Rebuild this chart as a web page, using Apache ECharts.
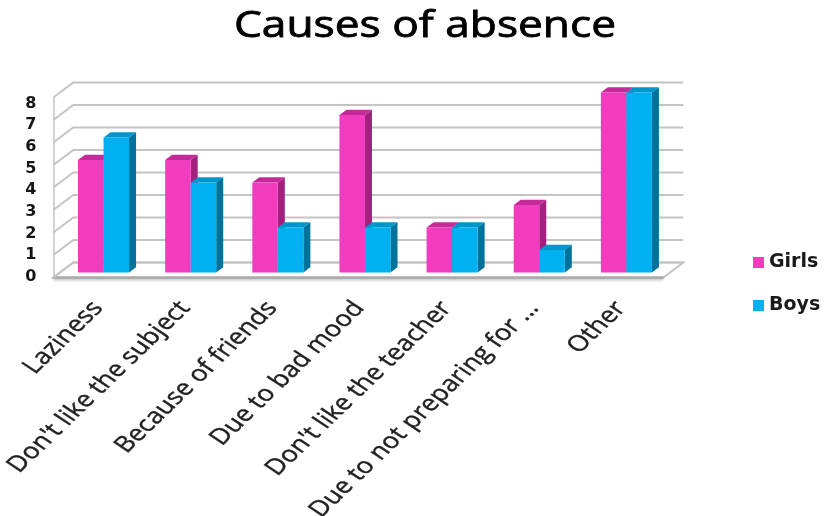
<!DOCTYPE html>
<html>
<head>
<meta charset="utf-8">
<script src="https://cdn.jsdelivr.net/npm/echarts@6/dist/echarts.min.js"></script>
<style>
  html, body { margin: 0; padding: 0; background: #ffffff; }
  #chart { width: 824px; height: 516px; }
</style>
</head>
<body>
<div id="chart"></div>
<script>
// ---- data ----
const categories = [
  "Laziness",
  "Don't like the subject",
  "Because of friends",
  "Due to bad mood",
  "Don't like the teacher",
  "Due to not preparing for …",
  "Other"
];
const girls = [5, 5, 4, 7, 2, 3, 8];
const boys = [6, 4, 2, 2, 2, 1, 8];
const valueTicks = [0, 1, 2, 3, 4, 5, 6, 7, 8];
const seriesNames = ['Girls', 'Boys'];
const titleText = 'Causes of absence';

// ---- 3D box geometry (pixels) ----
const DEPTH = [20, -15];      // offset of the back wall from the front edge
const BAR_T = 1 / 3;          // bars start this far into the box
const BAR_D = 0.35;           // bar depth as a share of the box depth
const BAR_W = 0.293;          // bar width as a share of a category band
const STRETCH = 1.25;         // horizontal widening of the text
const LABEL_ANGLE = 50.2 * Math.PI / 180;

const palette = {
  Girls: { front: '#f23cc0', side: '#a3207f', top: '#c42a9a' },
  Boys:  { front: '#00b0f0', side: '#00729c', top: '#0096cb' }
};

function barRenderer(idx) {
  const c = palette[seriesNames[idx]];
  return function (params, api) {
    const cat = api.value(0), v = api.value(1);
    const p0 = api.coord([cat, 0]);
    const p1 = api.coord([cat, v]);
    const band = api.size([1, 0])[0];
    const w = band * BAR_W;
    const ox = DEPTH[0] * BAR_T, oy = DEPTH[1] * BAR_T;
    const dx = DEPTH[0] * BAR_D, dy = DEPTH[1] * BAR_D;
    const x0 = p0[0] + ox - (idx === 0 ? w : 0);
    const x1 = x0 + w;
    const yb = p0[1] + oy, yt = p1[1] + oy;
    return {
      type: 'group',
      children: [
        { type: 'polygon', shape: { points: [[x1, yt], [x1 + dx, yt + dy], [x1 + dx, yb + dy], [x1, yb]] }, style: { fill: c.side } },
        { type: 'polygon', shape: { points: [[x0, yt], [x0 + dx, yt + dy], [x1 + dx, yt + dy], [x1, yt]] }, style: { fill: c.top } },
        { type: 'rect', shape: { x: x0, y: yt, width: w, height: yb - yt }, style: { fill: c.front } }
      ]
    };
  };
}

// gridline on the left side wall and the back wall
function wallLine(params, api) {
  const cs = params.coordSys;
  const y = api.coord([0, api.value(1)])[1];
  const xl = cs.x, xr = cs.x + cs.width;
  return {
    type: 'polyline',
    shape: { points: [[xl, y], [xl + DEPTH[0], y + DEPTH[1]], [xr + DEPTH[0], y + DEPTH[1]]] },
    style: { stroke: '#c4c4c4', lineWidth: 2, fill: null }
  };
}

// the floor of the box
function floorShape(params, api) {
  const cs = params.coordSys;
  const y = api.coord([0, 0])[1];
  const xl = cs.x, xr = cs.x + cs.width;
  return {
    type: 'group',
    children: [
      {
        type: 'polygon',
        shape: { points: [[xl, y], [xr, y], [xr + DEPTH[0], y + DEPTH[1]], [xl + DEPTH[0], y + DEPTH[1]]] },
        style: { fill: '#ffffff', stroke: '#c4c4c4', lineWidth: 2 }
      },
      {
        type: 'line',
        shape: { x1: xl, y1: y, x2: xr, y2: y },
        style: { stroke: '#a8a8a8', lineWidth: 2, shadowColor: 'rgba(0,0,0,0.35)', shadowBlur: 3, shadowOffsetY: 1.5 }
      }
    ]
  };
}

// slanted category labels under the floor
function categoryLabel(params, api) {
  const i = api.value(0);
  const p = api.coord([i, 0]);
  return {
    type: 'group',
    x: p[0] + 1,
    y: p[1] + 27,
    scaleX: STRETCH,
    children: [{
      type: 'text',
      rotation: LABEL_ANGLE,
      style: {
        text: categories[i],
        align: 'right',
        verticalAlign: 'middle',
        fontFamily: 'Open Sans',
        fontSize: 22,
        fill: '#1f1f1f',
        stroke: '#1f1f1f',
        lineWidth: 0.4
      }
    }]
  };
}

const chart = echarts.init(document.getElementById('chart'), null, { renderer: 'canvas' });

chart.setOption({
  backgroundColor: '#ffffff',
  animation: false,
  graphic: [{
    type: 'text',
    x: 425,
    y: 27,
    scaleX: 1.23,
    style: {
      text: titleText,
      fontFamily: 'Open Sans',
      fontWeight: 'normal',
      fontSize: 36,
      fill: '#000000',
      stroke: '#000000',
      lineWidth: 0.8,
      align: 'center',
      verticalAlign: 'middle'
    }
  }],
  legend: {
    data: seriesNames,
    orient: 'vertical',
    left: 748,
    top: 248,
    itemWidth: 11,
    itemHeight: 11,
    itemGap: 24,
    icon: 'rect',
    textStyle: { fontFamily: 'DejaVu Sans', fontWeight: 'bold', fontSize: 19, color: '#1a1a1a' }
  },
  grid: [
    { left: 53.3, top: 97.5, width: 610, height: 180 },
    // tick-label scale for the value axis
    { left: 53.3, top: 103.5, width: 610, height: 173.3 }
  ],
  xAxis: [
    {
      type: 'category', gridIndex: 0,
      data: categories,
      axisLine: { show: false },
      axisTick: { show: false },
      axisLabel: { show: false },
      splitLine: { show: false }
    },
    {
      type: 'category', gridIndex: 1,
      data: categories,
      show: false
    }
  ],
  yAxis: [
    {
      type: 'value', gridIndex: 0,
      min: 0, max: 8, interval: 1,
      axisLine: { show: true, lineStyle: { color: '#c4c4c4', width: 1.5 } },
      axisTick: { show: false },
      splitLine: { show: false },
      axisLabel: { show: false }
    },
    {
      type: 'value', gridIndex: 1,
      min: 0, max: 8, interval: 1,
      axisLine: { show: false },
      axisTick: { show: false },
      splitLine: { show: false },
      axisLabel: { fontFamily: 'DejaVu Sans', fontWeight: 'bold', fontSize: 16, color: '#151515', margin: 17 }
    }
  ],
  series: [
    {
      type: 'custom', name: 'floor', z: 1, silent: true,
      data: [[0, 0]], renderItem: floorShape
    },
    {
      type: 'custom', name: 'walls', z: 2, silent: true,
      data: valueTicks.map(v => [0, v]), renderItem: wallLine
    },
    {
      type: 'custom', name: seriesNames[0], z: 3,
      itemStyle: { color: palette.Girls.front },
      data: girls.map((v, i) => [i, v]),
      encode: { x: 0, y: 1 },
      renderItem: barRenderer(0)
    },
    {
      type: 'custom', name: seriesNames[1], z: 3,
      itemStyle: { color: palette.Boys.front },
      data: boys.map((v, i) => [i, v]),
      encode: { x: 0, y: 1 },
      renderItem: barRenderer(1)
    },
    {
      type: 'custom', name: 'labels', z: 4, silent: true,
      data: categories.map((c, i) => [i, 0]),
      renderItem: categoryLabel
    }
  ]
});
</script>
</body>
</html>
